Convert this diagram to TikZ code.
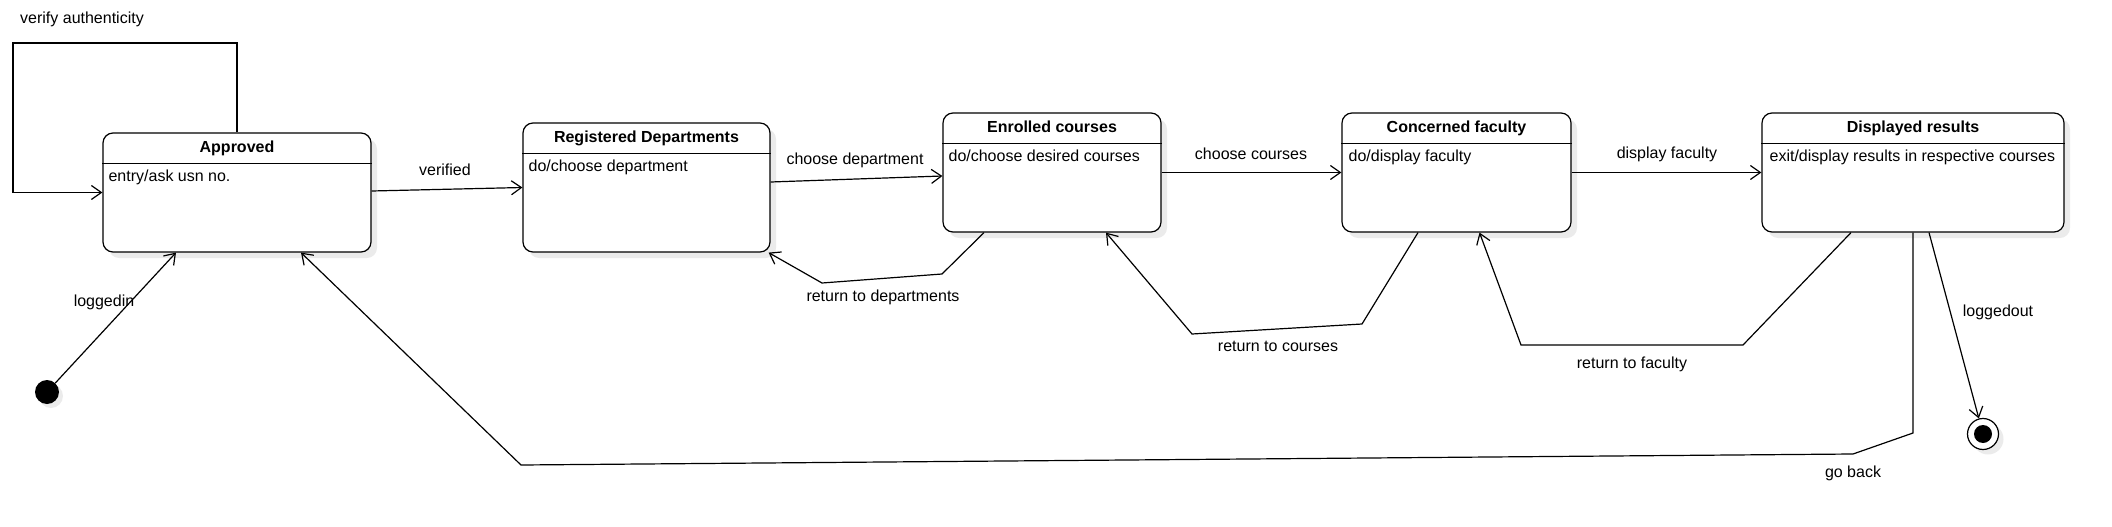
\documentclass[tikz,border=0pt]{standalone}
\usepackage{fontspec}
\setmainfont{Liberation Sans}
\usetikzlibrary{arrows.meta,shadows}

\tikzset{
  state/.style={draw,line width=1.2pt,rounded corners=10pt,fill=white,inner sep=0pt,
    drop shadow={shadow xshift=6pt,shadow yshift=-6pt,fill=black!8,opacity=1}},
  ttl/.style={font=\bfseries,anchor=base,inner sep=0pt},
  act/.style={anchor=base west,inner sep=0pt},
  lbl/.style={anchor=base,inner sep=0pt},
  trans/.style={draw,line width=1.2pt,-{Straight Barb[length=10pt,width=14pt]}},
}

\begin{document}
\begin{tikzpicture}[x=1pt,y=-1pt]
  \fontsize{16}{19}\selectfont
  \useasboundingbox (0,0) rectangle (2112,527);

  % states
  \node[state,minimum width=268pt,minimum height=119pt] (appr) at (237,192.5) {};
  \node[state,minimum width=247pt,minimum height=129pt] (regdep) at (646.5,187.5) {};
  \node[state,minimum width=218pt,minimum height=119pt] (enrol) at (1052,172.5) {};
  \node[state,minimum width=229pt,minimum height=119pt] (faculty) at (1456.5,172.5) {};
  \node[state,minimum width=302pt,minimum height=119pt] (result) at (1913,172.5) {};

  \foreach \s in {appr,regdep,enrol,faculty,result}
    \draw[line width=1.2pt] ([yshift=-31pt]\s.north west) -- ([yshift=-31pt]\s.north east);

  \node[ttl] (apprttl) at ([yshift=-20.5pt]appr.north) {Approved};
  \node[act] (appract) at ([xshift=6pt,yshift=-49.5pt]appr.north west) {entry/ask usn no.};
  \node[ttl] (regdepttl) at ([yshift=-20.5pt]regdep.north) {Registered Departments};
  \node[act] (regdepact) at ([xshift=6pt,yshift=-49.5pt]regdep.north west) {do/choose department};
  \node[ttl] (enrolttl) at ([yshift=-20.5pt]enrol.north) {Enrolled courses};
  \node[act] (enrolact) at ([xshift=6pt,yshift=-49.5pt]enrol.north west) {do/choose desired courses};
  \node[ttl] (facultyttl) at ([yshift=-20.5pt]faculty.north) {Concerned faculty};
  \node[act] (facultyact) at ([xshift=7pt,yshift=-49.5pt]faculty.north west) {do/display faculty};
  \node[ttl] (resultttl) at ([yshift=-20.5pt]result.north) {Displayed results};
  \node[act] (resultact) at ([xshift=8pt,yshift=-49.5pt]result.north west) {exit/display results in respective courses};

  % start and end
  \node[circle,fill=black,minimum size=24pt,inner sep=0pt,
    drop shadow={shadow xshift=4pt,shadow yshift=-4pt,fill=black!8,opacity=1}] (init) at (47,392) {};
  \node[circle,draw,line width=1.2pt,fill=white,minimum size=31pt,inner sep=0pt,
    drop shadow={shadow xshift=5pt,shadow yshift=-5pt,fill=black!8,opacity=1}] (final) at (1983,434) {};
  \fill (final.center) circle (9pt);

  % transitions
  \coordinate (loopnw) at (13,43);
  \path[trans] (appr.north) |- (loopnw) |- (appr.west);
  \node[lbl,anchor=base west] (lblverify) at (20,24) {verify authenticity};

  \path[trans] (init) -- ([xshift=-61pt]appr.south);
  \node[lbl] (lbllogin) at (104,306) {loggedin};

  \path[trans] ([yshift=1.5pt]appr.east) -- (regdep.west);
  \node[lbl] (lblverified) at (445,175) {verified};

  \path[trans] ([yshift=5.5pt]regdep.east) -- ([yshift=-3.5pt]enrol.west);
  \node[lbl] (lbldep) at (855,164) {choose department};

  \path[trans] (enrol.east) -- (faculty.west);
  \node[lbl] (lblcourses) at (1251,159) {choose courses};

  \path[trans] (faculty.east) -- (result.west);
  \node[lbl] (lblfaculty) at (1667,158) {display faculty};

  \path[trans] ([xshift=-68pt]enrol.south) -- (942,274) -- (822,283) -- ([xshift=-2pt]regdep.south east);
  \node[lbl] (lblretdep) at (883,301) {return to departments};

  \path[trans] ([xshift=-38.5pt]faculty.south) -- (1362,324) -- (1192,334) -- ([xshift=54pt]enrol.south);
  \node[lbl] (lblretcourses) at (1278,351) {return to courses};

  \path[trans] ([xshift=-62pt]result.south) -- (1743,345) -- (1521,345) -- ([xshift=23pt]faculty.south);
  \node[lbl] (lblretfaculty) at (1632,368) {return to faculty};

  \path[trans] (result.south) -- (1913,433) -- (1853,454) -- (521,465) -- ([xshift=64pt]appr.south);
  \node[lbl] (lblback) at (1853,477) {go back};

  \path[trans] ([xshift=16pt]result.south) -- (final);
  \node[lbl] (lbllogout) at (1998,316) {loggedout};
\end{tikzpicture}
\end{document}
